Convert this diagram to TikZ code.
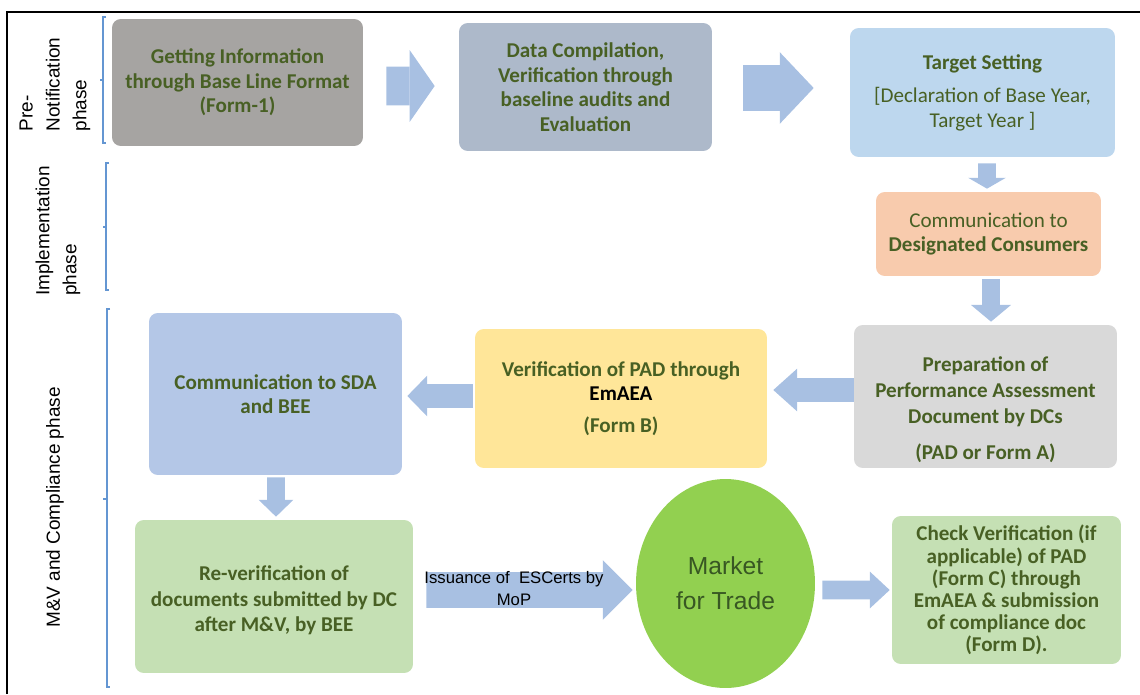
\documentclass[tikz,border=0pt]{standalone}
\usepackage{fontspec}
\setmainfont{Carlito}
\newfontfamily\arialfont{Liberation Sans}
\usetikzlibrary{arrows.meta}
\usetikzlibrary{calc}
\usetikzlibrary{shapes.geometric}
\definecolor{txtgreen}{RGB}{72,96,36}
\definecolor{arrowblue}{RGB}{168,192,226}
\definecolor{bracketblue}{RGB}{100,150,210}
\definecolor{color-getinfo}{RGB}{166,164,162}
\definecolor{color-datacomp}{RGB}{173,185,202}
\definecolor{color-target}{RGB}{189,215,238}
\definecolor{color-commdc}{RGB}{248,203,173}
\definecolor{color-prep}{RGB}{217,217,217}
\definecolor{color-verif}{RGB}{255,230,153}
\definecolor{color-commsda}{RGB}{180,199,231}
\definecolor{color-reverif}{RGB}{197,224,180}
\definecolor{color-market}{RGB}{146,208,80}
\definecolor{color-markettext}{RGB}{56,87,35}

\begin{document}
\begin{tikzpicture}[x=0.02cm, y=-0.02cm,
stage/.style={rounded corners=5pt, inner sep=0pt, align=center, text=txtgreen, font=\fontsize{12}{14}\selectfont\bfseries},
phase/.style={rotate=90, align=left, font=\arialfont\fontsize{10.8}{15.3}\selectfont},
bracket/.style={draw=bracketblue, line width=0.6pt},
blockarrow/.style n args={3}{draw=arrowblue, line width=#1, -{Triangle[width=#2, length=#3, line width=0pt]}}]

\useasboundingbox (0,0) rectangle (1140,694);
\draw[line width=1.1pt] (7,694) -- (7,12) -- (1140,12);

%% phases
\node[phase] (prenote) at (55,84.5) {Pre-\\Notification\\phase};
\node[phase] (implement) at (58,231) {Implementation\\phase};
\node[phase] (mvphase) at (55,507.5) {M\&V and Compliance phase};

\draw[bracket] (106,17) -- (103,17) -- (103,143) -- (106,143);
\draw[bracket] (103,80) -- (100,80);
\draw[bracket] (109,163) -- (106,163) -- (106,290) -- (109,290);
\draw[bracket] (106,227) -- (103,227);
\draw[bracket] (110,309) -- (107,309) -- (107,687) -- (110,687);
\draw[bracket] (107,499) -- (103,499);

%% first row
\node[stage, fill=color-getinfo, minimum width=5.02cm, minimum height=2.54cm] (getinfo) at (237.5,82.5) {Getting Information\\through Base Line Format\\(Form-1)};
\node[stage, fill=color-datacomp, minimum width=5.06cm, minimum height=2.56cm] (datacomp) at (585.5,87) {Data Compilation,\\Verification through\\baseline audits and\\Evaluation};
\node[stage, fill=color-target, minimum width=5.3cm, minimum height=2.58cm] (target) at (982.5,92.5) {Target Setting\\[5pt]\mdseries [Declaration of Base Year,\\\mdseries Target Year ]};

%% right column
\node[stage, fill=color-commdc, minimum width=4.5cm, minimum height=1.68cm] (commdc) at (988.5,234) {{\mdseries Communication to}\\Designated Consumers};
\node[stage, fill=color-prep, minimum width=5.26cm, minimum height=2.86cm, font=\fontsize{12}{15}\selectfont\bfseries] (prep) at (985.5,396.5) {\rule{0pt}{23pt}Preparation of\\Performance Assessment\\Document by DCs\\[5pt](PAD or Form A)};

%% middle row
\node[stage, fill=color-verif, minimum width=5.84cm, minimum height=2.78cm] (verif) at (621,398.5) {Verification of PAD through\\{\color{black}EmAEA}\\[4pt](Form B)};
\node[stage, fill=color-commsda, minimum width=5.06cm, minimum height=3.24cm] (commsda) at (275.5,394) {Communication to SDA\\and BEE};

%% last row
\node[stage, fill=color-reverif, minimum width=5.56cm, minimum height=3.06cm, font=\fontsize{12}{14.5}\selectfont\bfseries] (reverif) at (274,596.5) {\rule{0pt}{13pt}Re-verification of\\documents submitted by DC\\after M\&V, by BEE};
\node[ellipse, fill=color-market, minimum width=3.58cm, minimum height=4.18cm, inner sep=0pt, align=center, text=color-markettext, font=\arialfont\fontsize{14}{20}\selectfont] (market) at (725.5,583.5) {Market\\for Trade};
\node[stage, fill=color-reverif, minimum width=4.58cm, minimum height=2.96cm, font=\fontsize{12}{12.6}\selectfont\bfseries] (check) at (1006.5,590) {Check Verification (if\\applicable) of PAD\\(Form C) through\\EmAEA \& submission\\of compliance doc\\(Form D).};

%% arrows
\draw[blockarrow={22pt}{40.8pt}{14.2pt}] ($(getinfo.east)+(23,3.5)$) -- ($(datacomp.west)+(-24,-1)$);
\draw[blockarrow={26pt}{40.8pt}{19.3pt}] ($(datacomp.east)+(31,1)$) -- ($(target.west)+(-36,-4.5)$);
\draw[blockarrow={10.2pt}{21.5pt}{6.2pt}] ($(target.south)+(4.5,6)$) -- ($(commdc.north)+(-1.5,-3)$);
\draw[blockarrow={10.2pt}{23pt}{9.6pt}] ($(commdc.south)+(2.5,3)$) -- ($(prep.north)+(5.5,-3)$);
\draw[blockarrow={14pt}{24.4pt}{13.6pt}] ($(prep.west)+(0,-6.5)$) -- ($(verif.east)+(6,-8.5)$);
\draw[blockarrow={14pt}{23.2pt}{11.3pt}] ($(verif.west)+(-2,-2.5)$) -- ($(commsda.east)+(5,2)$);
\draw[blockarrow={10.2pt}{19.8pt}{9.6pt}] ($(commsda.south)+(0.5,2)$) -- ($(reverif.north)+(2,-3)$);
\draw[blockarrow={20.4pt}{34pt}{17pt}] ($(reverif.east)+(13,-6.5)$) -- ($(market.west)+(-3,6.5)$);
\draw[blockarrow={10.8pt}{21pt}{11.3pt}] ($(market.east)+(7,6.5)$) -- ($(check.west)+(-2,0)$);

\node[align=center, font=\arialfont\fontsize{9.5}{12.5}\selectfont] (issue) at (514,589) {Issuance of~~ESCerts by\\MoP};

\end{tikzpicture}
\end{document}
